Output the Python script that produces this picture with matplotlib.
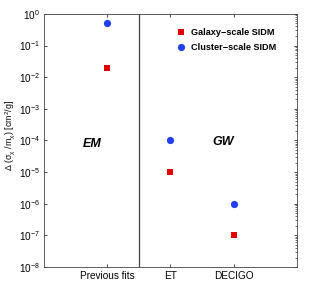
import matplotlib
matplotlib.use("Agg")
import matplotlib.pyplot as plt
import numpy as np

plt.rcParams['font.family'] = ['Liberation Sans', 'DejaVu Sans']
plt.rcParams['mathtext.fontset'] = 'custom'
plt.rcParams['mathtext.rm'] = 'Liberation Sans'
plt.rcParams['mathtext.it'] = 'Liberation Sans:italic'
plt.rcParams['mathtext.default'] = 'regular'

# data
experiments = ['Previous fits', 'ET', 'DECIGO']
positions = [1, 2, 3]
galaxy_sidm = [2e-2, 1e-5, 1e-7]
cluster_sidm = [5e-1, 1e-4, 1e-6]

fig = plt.figure(figsize=(3.18, 2.89), dpi=100)
ax = fig.add_axes([0.138, 0.076, 0.796, 0.876])

ax.plot(positions, galaxy_sidm, 's', color='#e00000', markersize=4.2,
        markeredgewidth=0, label='Galaxy\u2212scale SIDM')
ax.plot(positions, cluster_sidm, 'o', color='#2040f0', markersize=5.2,
        markeredgewidth=0, label='Cluster\u2212scale SIDM')

ax.axvline(1.5, color='#444444', lw=0.9)

ax.set_yscale('log')
ax.set_ylim(1e-8, 1)
ax.set_xlim(0, 4)
ax.set_xticks(positions)
ax.set_xticklabels(experiments)
ax.set_yticks([10.0 ** k for k in range(-8, 1)])

ax.tick_params(direction='in', top=True, right=True, labelsize=7.2, length=2.5,
               width=0.5, pad=3)
ax.tick_params(which='minor', direction='in', right=True, left=False, length=1.3,
               width=0.4)
for s in ax.spines.values():
    s.set_linewidth(0.6)
    s.set_color('#444444')

ax.set_ylabel(r'$\Delta\ (\sigma_\chi\ /m_\chi)\ [cm^2/g]$', fontsize=6.4)
ax.yaxis.set_label_coords(-0.105, 0.52)

ax.text(0.76, 10 ** -4.1, 'EM', fontsize=9, fontweight='bold', style='italic',
        ha='center', va='center')
ax.text(2.84, 10 ** -4.05, 'GW', fontsize=9, fontweight='bold', style='italic',
        ha='center', va='center')

ax.legend(loc='upper left', bbox_to_anchor=(0.5, 0.968), frameon=False,
          handletextpad=0.5, labelspacing=0.6, prop={'weight': 'bold', 'size': 6.6},
          handlelength=1.0, borderaxespad=0.3)

fig.savefig('out.png', dpi=100)
